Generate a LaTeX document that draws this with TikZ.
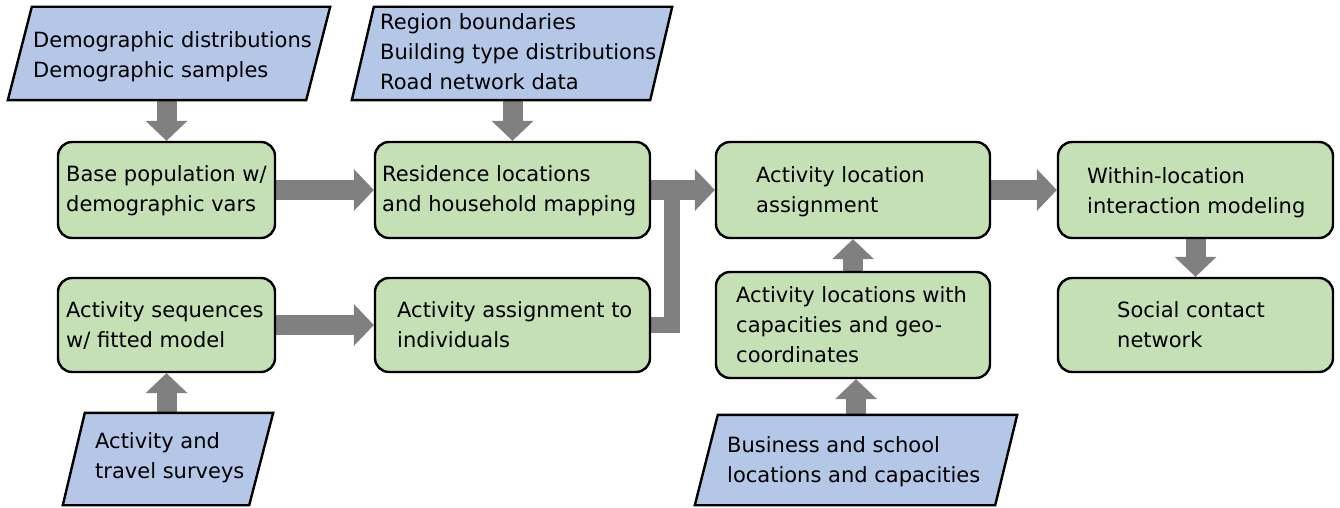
\documentclass[tikz,border=0pt]{standalone}
\usepackage{fontspec}
\setmainfont{DejaVu Sans}
\usetikzlibrary{arrows.meta,calc,backgrounds}
\definecolor{boxgreen}{HTML}{C5E0B4}
\definecolor{parblue}{HTML}{B4C7E7}
\definecolor{arrgray}{HTML}{808080}
\begin{document}
\begin{tikzpicture}[x=1pt,y=-1pt,
  box/.style={draw=black, line width=2.4pt, fill=boxgreen, rounded corners=14pt, inner sep=0pt},
  holder/.style={inner sep=0pt},
  para/.style={draw=black, line width=2.4pt, fill=parblue, line join=miter},
  txt/.style={anchor=west, align=left, inner sep=0pt, font=\fontsize{21}{30}\selectfont},
  bigarrow/.style={draw=arrgray, line width=20pt, -{Triangle[width=42pt,length=20pt,line width=0pt,fill=arrgray]}},
  joinline/.style={draw=arrgray, line width=16pt, line join=miter}
]
\useasboundingbox (0,0) rectangle (1340,508);

% process boxes
\node[box, minimum width=217pt, minimum height=96pt] (base) at (166.5,190) {};
\node[box, minimum width=275pt, minimum height=96pt] (res) at (512.5,190) {};
\node[box, minimum width=274pt, minimum height=96pt] (ala) at (853,190) {};
\node[box, minimum width=275pt, minimum height=96pt] (win) at (1195.5,190) {};
\node[box, minimum width=217pt, minimum height=94pt] (seq) at (166.5,325) {};
\node[box, minimum width=275pt, minimum height=94pt] (asg) at (512.5,325) {};
\node[box, minimum width=274pt, minimum height=106pt] (aloc) at (853,325) {};
\node[box, minimum width=275pt, minimum height=94pt] (soc) at (1195.5,325) {};

% input parallelograms
\node[holder, minimum width=322pt, minimum height=93pt] (demo) at (169,53.5) {};
\draw[para] (demo.south west) -- ($(demo.north west)+(24,0)$) -- (demo.north east) -- ($(demo.south east)+(-24,0)$) -- cycle;
\node[holder, minimum width=320pt, minimum height=93pt] (reg) at (512,53.5) {};
\draw[para] (reg.south west) -- ($(reg.north west)+(22,0)$) -- (reg.north east) -- ($(reg.south east)+(-22,0)$) -- cycle;
\node[holder, minimum width=210pt, minimum height=92pt] (surv) at (168,459) {};
\draw[para] (surv.south west) -- ($(surv.north west)+(22,0)$) -- (surv.north east) -- ($(surv.south east)+(-24,0)$) -- cycle;
\node[holder, minimum width=322pt, minimum height=90pt] (biz) at (856,460) {};
\draw[para] (biz.south west) -- ($(biz.north west)+(23,0)$) -- (biz.north east) -- ($(biz.south east)+(-22,0)$) -- cycle;

% texts
\node[txt] (tdemo) at (33,56.5) {Demographic distributions\\Demographic samples};
\node[txt] (treg) at (380,52) {Region boundaries\\Building type distributions\\Road network data};
\node[txt] (tsurv) at (95,457.5) {Activity and\\travel surveys};
\node[txt] (tbiz) at (727,461.5) {Business and school\\locations and capacities};
\node[txt] (tbase) at (66,191) {Base population w/\\demographic vars};
\node[txt] (tres) at (382,191) {Residence locations\\and household mapping};
\node[txt] (tala) at (756,191.5) {Activity location\\assignment};
\node[txt] (twin) at (1087,192.5) {Within-location\\interaction modeling};
\node[txt] (tseq) at (66,325) {Activity sequences\\w/ fitted model};
\node[txt] (tasg) at (397,325) {Activity assignment to\\individuals};
\node[txt] (taloc) at (736,325) {Activity locations with\\capacities and geo-\\coordinates};
\node[txt] (tsoc) at (1117,325) {Social contact\\network};

\coordinate (mrg) at (672,190);

\begin{scope}[on background layer]
\draw[bigarrow] (base.north |- demo.south) -- (base.north);
\draw[bigarrow] (res.north |- reg.south) -- (res.north);
\draw[bigarrow] (base.east) -- (res.west);
\draw[bigarrow] (seq.east) -- (asg.west);
\draw[bigarrow] (seq.south |- surv.north) -- (seq.south);
\draw[joinline] (asg.east) -| (mrg);
\draw[bigarrow] (res.east) -- (ala.west);
\draw[bigarrow] (aloc.north) -- (ala.south);
\draw[bigarrow] (biz.north) -- (aloc.south -| biz.north);
\draw[bigarrow] (ala.east) -- (win.west);
\draw[bigarrow] (win.south) -- (soc.north);
\end{scope}
\end{tikzpicture}
\end{document}
